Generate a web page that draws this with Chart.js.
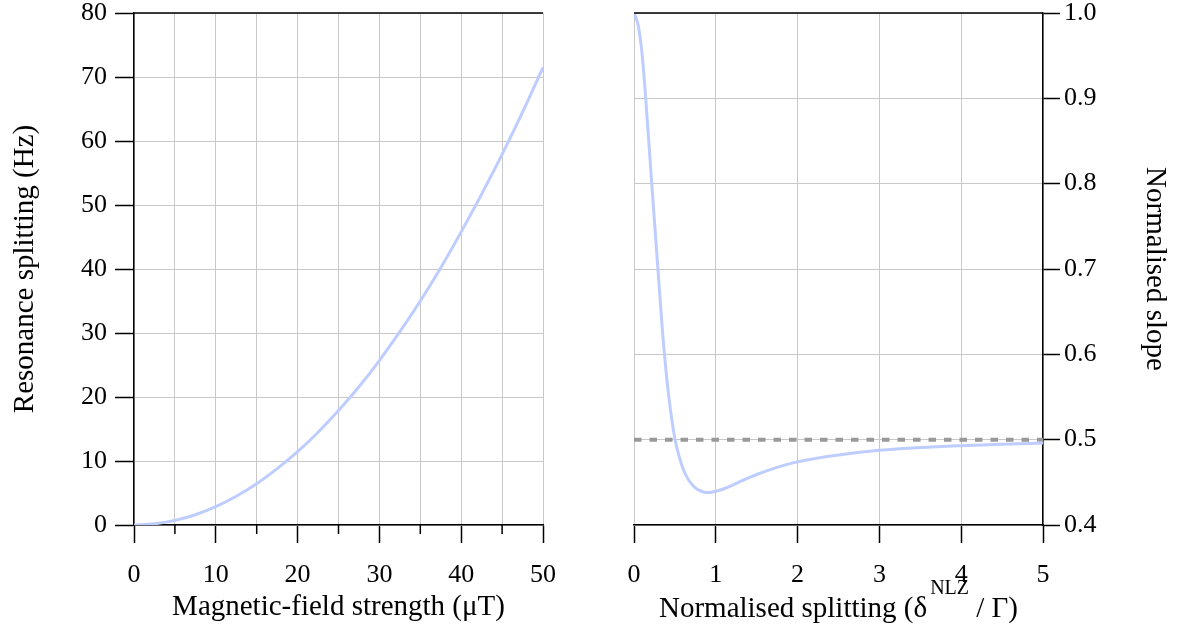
<!DOCTYPE html>
<html>
<head>
<meta charset="utf-8">
<script src="https://cdn.jsdelivr.net/npm/chart.js@4.4.1/dist/chart.umd.min.js"></script>
<style>
  body { margin: 0; background: #fff; }
  #leftBox { position: absolute; left: 0; top: 0; width: 589px; height: 637px; }
  #rightBox { position: absolute; left: 589px; top: 0; width: 589px; height: 637px; }
</style>
</head>
<body>
<div id="leftBox"><canvas id="leftChart" width="589" height="637"></canvas></div>
<div id="rightBox"><canvas id="rightChart" width="589" height="637"></canvas></div>
<script>
// left panel: resonance splitting vs field
const fieldStrength = [0, 2.5, 5, 7.5, 10, 12.5, 15, 17.5, 20, 22.5, 25, 27.5, 30, 32.5, 35, 37.5, 40, 42.5, 45, 47.5, 50];
const splittingHz = [0, 0.18, 0.72, 1.6, 2.86, 4.5, 6.45, 8.8, 11.45, 14.5, 17.9, 21.6, 25.7, 30.2, 35.0, 40.2, 45.8, 51.7, 57.9, 64.5, 71.5];

// right panel: normalised slope vs normalised splitting
const normSplitting = [0, 0.05, 0.1, 0.15, 0.2, 0.25, 0.3, 0.35, 0.4, 0.45, 0.5, 0.55, 0.6, 0.65, 0.7, 0.75, 0.8, 0.85, 0.9, 0.95, 1.0, 1.1, 1.2, 1.3, 1.4, 1.5, 1.75, 2.0, 2.5, 3.0, 3.5, 4.0, 4.5, 5.0];
const normSlope = [1.0, 0.986, 0.951, 0.891, 0.823, 0.756, 0.69, 0.625, 0.572, 0.532, 0.501, 0.481, 0.466, 0.4555, 0.4485, 0.4435, 0.4405, 0.4387, 0.438, 0.4383, 0.4395, 0.4425, 0.4465, 0.451, 0.4553, 0.4592, 0.4675, 0.474, 0.482, 0.4875, 0.4908, 0.493, 0.4947, 0.496];
const refLineX = [0, 5];
const refLineY = [0.5, 0.5];

const curveColor = 'rgb(190, 205, 255)';
const gridColor = '#c8c8c8';
const tickFont = { family: '"Liberation Serif", serif', size: 26 };
const titleFont = { family: '"Liberation Serif", serif', size: 29 };

Chart.defaults.color = '#000';
Chart.defaults.font.family = '"Liberation Serif", serif';

function toPoints(xs, ys) {
    return xs.map((x, i) => ({ x: x, y: ys[i] }));
}

// keep label overhang from pushing the plot area around
function noPadH(s) { s.height = 112; s.paddingLeft = 0; s.paddingRight = 0; }

// black line along the top of the plot area
const topBorder = {
    id: 'topBorder',
    afterDraw(chart) {
        const a = chart.chartArea;
        const ctx = chart.ctx;
        ctx.save();
        ctx.strokeStyle = '#000';
        ctx.lineWidth = 1.5;
        ctx.beginPath();
        ctx.moveTo(a.left, a.top);
        ctx.lineTo(a.right, a.top);
        ctx.stroke();
        ctx.restore();
    }
};

// short minor ticks on the left x axis
const minorTicks = {
    id: 'minorTicks',
    afterDraw(chart) {
        const xs = chart.scales.x;
        const a = chart.chartArea;
        const ctx = chart.ctx;
        ctx.save();
        ctx.strokeStyle = '#000';
        ctx.lineWidth = 1.5;
        xs.ticks.forEach(t => {
            if (t.value % 10 !== 0) {
                const px = xs.getPixelForValue(t.value);
                ctx.beginPath();
                ctx.moveTo(px, a.bottom);
                ctx.lineTo(px, a.bottom + 9);
                ctx.stroke();
            }
        });
        ctx.restore();
    }
};

// x title with superscript for the right panel
const rightXTitle = {
    id: 'rightXTitle',
    afterDraw(chart) {
        const a = chart.chartArea;
        const ctx = chart.ctx;
        const main = '29px "Liberation Serif", serif';
        const sup = '20px "Liberation Serif", serif';
        const p1 = 'Normalised splitting (\u03b4';
        const p2 = 'NLZ';
        const p3 = ' / \u0393)';
        ctx.save();
        ctx.fillStyle = '#000';
        ctx.textBaseline = 'alphabetic';
        ctx.font = main;
        const w1 = ctx.measureText(p1).width;
        const w3 = ctx.measureText(p3).width;
        ctx.font = sup;
        const w2 = ctx.measureText(p2).width;
        let x = (a.left + a.right) / 2 - (w1 + w2 + w3 + 3) / 2;
        const base = 617;
        ctx.font = main;
        ctx.fillText(p1, x, base);
        x += w1 + 3;
        ctx.font = sup;
        ctx.fillText(p2, x, base - 23);
        x += w2;
        ctx.font = main;
        ctx.fillText(p3, x, base);
        ctx.restore();
    }
};

new Chart(document.getElementById('leftChart'), {
    type: 'line',
    data: {
        datasets: [{
            data: toPoints(fieldStrength, splittingHz),
            borderColor: curveColor,
            borderWidth: 3,
            pointRadius: 0,
            tension: 0.4,
            fill: false
        }]
    },
    options: {
        responsive: false,
        animation: false,
        layout: { padding: { top: 13, right: 46, left: 0, bottom: 0 } },
        plugins: { legend: { display: false }, tooltip: { enabled: false } },
        scales: {
            x: {
                type: 'linear',
                min: 0, max: 50,
                afterFit: noPadH,
                afterBuildTicks(s) {
                    s.ticks = [];
                    for (let v = 0; v <= 50; v += 5) s.ticks.push({ value: v });
                },
                ticks: {
                    font: tickFont,
                    padding: 17,
                    maxRotation: 0,
                    autoSkip: false,
                    callback: v => (v % 10 === 0 ? v : '')
                },
                grid: {
                    color: gridColor,
                    tickLength: 18,
                    tickWidth: 1.5,
                    tickColor: c => (c.tick && c.tick.value % 10 === 0 ? '#000' : 'rgba(0,0,0,0)')
                },
                border: { color: '#000', width: 1.5 },
                title: {
                    display: true,
                    text: 'Magnetic-field strength (\u03bcT)',
                    font: titleFont,
                    padding: { top: 0, bottom: 12 }
                }
            },
            y: {
                type: 'linear',
                min: 0, max: 80,
                afterFit(s) { s.width = 134; s.paddingTop = 0; s.paddingBottom = 0; },
                ticks: { stepSize: 10, font: tickFont, padding: 8 },
                grid: { color: gridColor, tickLength: 19, tickWidth: 1.5, tickColor: '#000' },
                border: { color: '#000', width: 1.5 },
                title: {
                    display: true,
                    text: 'Resonance splitting (Hz)',
                    font: titleFont,
                    padding: { top: 8, bottom: 0 }
                }
            }
        }
    },
    plugins: [topBorder, minorTicks]
});

new Chart(document.getElementById('rightChart'), {
    type: 'line',
    data: {
        datasets: [{
            data: toPoints(normSplitting, normSlope),
            borderColor: curveColor,
            borderWidth: 3,
            pointRadius: 0,
            cubicInterpolationMode: 'monotone',
            fill: false
        }, {
            data: toPoints(refLineX, refLineY),
            borderColor: '#999999',
            borderWidth: 4,
            borderDash: [7.5, 8],
            pointRadius: 0,
            fill: false
        }]
    },
    options: {
        responsive: false,
        animation: false,
        layout: { padding: { top: 13, right: 0, left: 45, bottom: 0 } },
        plugins: { legend: { display: false }, tooltip: { enabled: false } },
        scales: {
            x: {
                type: 'linear',
                min: 0, max: 5,
                afterFit: noPadH,
                ticks: { stepSize: 1, font: tickFont, padding: 17, maxRotation: 0 },
                grid: { color: gridColor, tickLength: 18, tickWidth: 1.5, tickColor: '#000' },
                border: { color: '#000', width: 1.5 }
            },
            y: {
                type: 'linear',
                position: 'right',
                min: 0.4, max: 1.0,
                afterFit(s) { s.width = 135; s.paddingTop = 0; s.paddingBottom = 0; },
                ticks: { stepSize: 0.1, font: tickFont, padding: 4, callback: v => v.toFixed(1) },
                grid: { color: gridColor, tickLength: 17, tickWidth: 1.5, tickColor: '#000' },
                border: { color: '#000', width: 1.5 },
                title: {
                    display: true,
                    text: 'Normalised slope',
                    font: titleFont,
                    padding: { top: 6, bottom: 0 }
                }
            }
        }
    },
    plugins: [topBorder, rightXTitle]
});
</script>
</body>
</html>
